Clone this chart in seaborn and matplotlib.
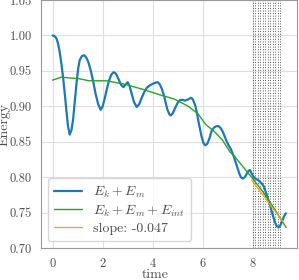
import matplotlib
matplotlib.use("Agg")
import matplotlib.pyplot as plt
import seaborn as sns
import numpy as np

# ---- data ----
t_kin = [0.0, 0.08, 0.15, 0.22, 0.28, 0.35, 0.42, 0.49, 0.55, 0.61, 0.68, 0.75, 0.82, 0.88,
         0.95, 1.02, 1.08, 1.17, 1.26, 1.34, 1.42, 1.52, 1.62, 1.72, 1.82, 1.92, 2.0, 2.08,
         2.17, 2.26, 2.35, 2.43, 2.5, 2.56, 2.65, 2.74, 2.83, 2.92, 3.0, 3.07, 3.14, 3.25,
         3.36, 3.46, 3.56, 3.66, 3.76, 3.86, 3.96, 4.08, 4.2, 4.28, 4.36, 4.46, 4.53, 4.59,
         4.66, 4.72, 4.8, 4.9, 5.0, 5.1, 5.2, 5.3, 5.43, 5.53, 5.6, 5.7, 5.77, 5.83, 5.9,
         5.96, 6.03, 6.1, 6.18, 6.27, 6.35, 6.45, 6.55, 6.63, 6.72, 6.8, 6.88, 6.96, 7.03,
         7.13, 7.23, 7.36, 7.45, 7.52, 7.6, 7.68, 7.76, 7.83, 7.88, 7.94, 8.02, 8.1, 8.2,
         8.3, 8.38, 8.45, 8.52, 8.6, 8.7, 8.8, 8.88, 8.95, 9.03, 9.1, 9.17, 9.25, 9.32]
e_kin = [1.000, 0.999, 0.996, 0.988, 0.977, 0.960, 0.940, 0.916, 0.894, 0.873, 0.860, 0.866,
         0.882, 0.905, 0.931, 0.953, 0.965, 0.971, 0.972, 0.969, 0.963, 0.951, 0.935, 0.917,
         0.903, 0.895, 0.900, 0.911, 0.925, 0.937, 0.945, 0.948, 0.947, 0.944, 0.937, 0.930,
         0.927, 0.931, 0.934, 0.929, 0.920, 0.906, 0.899, 0.903, 0.912, 0.920, 0.926, 0.929,
         0.931, 0.933, 0.934, 0.931, 0.925, 0.914, 0.903, 0.895, 0.889, 0.887, 0.890, 0.898,
         0.905, 0.909, 0.909, 0.908, 0.910, 0.912, 0.910, 0.901, 0.890, 0.878, 0.866, 0.856,
         0.848, 0.845, 0.847, 0.855, 0.865, 0.870, 0.872, 0.872, 0.869, 0.864, 0.857, 0.850,
         0.845, 0.839, 0.830, 0.816, 0.806, 0.800, 0.798, 0.800, 0.805, 0.809, 0.810, 0.806,
         0.801, 0.798, 0.796, 0.793, 0.790, 0.786, 0.779, 0.770, 0.759, 0.746, 0.737, 0.731,
         0.729, 0.732, 0.738, 0.745, 0.749]

t_tot = [0.0, 0.35, 1.05, 1.45, 2.15, 2.9, 3.6, 4.3, 4.88, 5.42, 5.82, 6.1, 6.5, 6.79,
         7.1, 7.23, 7.76, 8.04, 8.43, 8.83, 9.33]
e_tot = [0.937, 0.941, 0.939, 0.936, 0.936, 0.931, 0.924, 0.916, 0.910, 0.900, 0.889,
         0.875, 0.863, 0.852, 0.835, 0.831, 0.808, 0.796, 0.778, 0.757, 0.729]

slope = -0.047
fit_window = [7.95, 9.2]
fit_start_value = 0.796

event_times = [8.0, 8.1, 8.2, 8.3, 8.4, 8.5, 8.6, 8.7, 8.8, 8.9, 9.0, 9.1]

labels = ["$E_k + E_m$", "$E_k + E_m + E_{int}$", "slope: -0.047"]
x_ticks = [0, 2, 4, 6, 8]
y_ticks = [0.70, 0.75, 0.80, 0.85, 0.90, 0.95, 1.00, 1.05]

# ---- style ----
sns.set_style("whitegrid", {"axes.edgecolor": "0.6", "grid.color": "0.87"})
plt.rcParams["font.family"] = ["cmr10", "DejaVu Serif"]
plt.rcParams["mathtext.fontset"] = "cm"
plt.rcParams["axes.formatter.use_mathtext"] = True
plt.rcParams["axes.unicode_minus"] = False

fig = plt.figure(figsize=(2.99, 2.8), dpi=100)
ax = fig.add_axes([41 / 299, 32 / 280, 256 / 299, 248 / 280])

for tv in event_times:
    ax.axvline(tv, color="0.35", ls=":", lw=0.7, zorder=1)

sns.lineplot(x=t_kin, y=e_kin, ax=ax, color="#1f77b4", lw=1.6, label=labels[0], zorder=3)
sns.lineplot(x=t_tot, y=e_tot, ax=ax, color="#2ca02c", lw=1.0, label=labels[1], zorder=3)
fit_t = np.array(fit_window)
fit_v = fit_start_value + slope * (fit_t - fit_window[0])
sns.lineplot(x=fit_t, y=fit_v, ax=ax, color="orange", lw=0.9, label=labels[2], zorder=4)

ax.set_ylim(0.70, 1.05)
ax.set_xlim(-0.465, 9.765)
ax.set_xticks(x_ticks)
ax.set_yticks(y_ticks)
ax.set_yticklabels([f"{v:.2f}" for v in y_ticks])
ax.tick_params(labelsize=9, colors="0.3", pad=3)
ax.set_xlabel("time", fontsize=10, color="0.3")
ax.set_ylabel("Energy", fontsize=10, color="0.3")
ax.xaxis.set_label_coords(0.445, -0.085)
ax.yaxis.set_label_coords(-0.118, 0.5)

leg = ax.legend(loc="lower left", fontsize=10, frameon=True, borderaxespad=0.5,
                handlelength=2.0, labelspacing=0.25, borderpad=0.45)
for txt in leg.get_texts():
    txt.set_color("0.3")

fig.savefig("out.png", dpi=100)
